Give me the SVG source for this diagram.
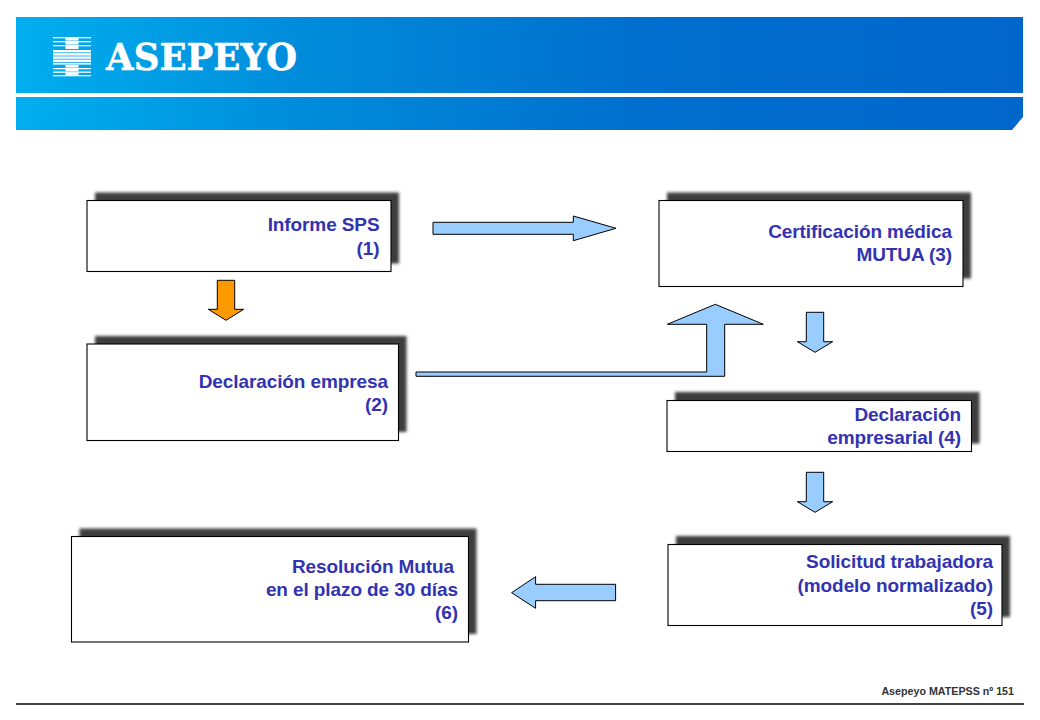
<svg xmlns="http://www.w3.org/2000/svg" width="1040" height="720" viewBox="0 0 1040 720">
<style>
.box{fill:#fff;stroke:#000;stroke-width:1.1}
.shadow{fill:#3c3c3c;filter:url(#blur)}
.label{font-family:"Liberation Sans",Arial,sans-serif;font-weight:700;font-size:19px;fill:#3333b2;text-anchor:end;letter-spacing:-.1px}
.arrow{fill:#99ccff;stroke:#000;stroke-width:1;stroke-linejoin:miter}
.orange{fill:#ff9900}
</style>
<defs>
<linearGradient id="hdr" gradientUnits="userSpaceOnUse" x1="16" y1="0" x2="1023" y2="0">
<stop offset="0" stop-color="#00aeef"/><stop offset=".3" stop-color="#008ada"/><stop offset=".62" stop-color="#006fce"/><stop offset="1" stop-color="#0066cc"/>
</linearGradient>
<filter id="blur" x="-5%" y="-15%" width="110%" height="130%"><feGaussianBlur stdDeviation="1.6"/></filter>
</defs>
<g id="header">
<rect x="16" y="17" width="1007" height="76" fill="url(#hdr)"/>
<polygon points="16,97 1023,97 1023,117 1012,130 16,130" fill="url(#hdr)"/>
<g id="logo" fill="#fff">
<rect x="53" y="37" width="38" height="1.300"/><rect x="53" y="41" width="38" height="1.300"/><rect x="53" y="45" width="38" height="1.300"/>
<rect x="53" y="68" width="38" height="1.300"/><rect x="53" y="71.500" width="38" height="1.300"/><rect x="53" y="75" width="38" height="1.300"/>
<rect x="65.500" y="38" width="13" height="2.600"/><rect x="65.500" y="42" width="13" height="2.600"/><rect x="65.500" y="46" width="13" height="3"/>
<rect x="53" y="50" width="38" height="2.400"/><rect x="53" y="53.200" width="38" height="2.400"/><rect x="53" y="56.400" width="38" height="2.400"/><rect x="53" y="59.600" width="38" height="2.400"/><rect x="53" y="62.800" width="38" height="1.800"/>
<rect x="65.500" y="65" width="13" height="2.600"/><rect x="65.500" y="69" width="13" height="2.300"/><rect x="65.500" y="72.600" width="13" height="2.300"/>
</g>
<text x="106" y="69.500" font-family="'DejaVu Serif',serif" font-weight="700" font-size="38" fill="#fff" stroke="#fff" stroke-width=".5" textLength="191" lengthAdjust="spacingAndGlyphs">ASEPEYO</text>
</g>
<g id="connectors">
<polygon class="arrow" points="433,222.300 573.300,222.300 573.300,216 616,228.300 573.300,240.700 573.300,234.300 433,234.300"/>
<polygon class="arrow orange" points="217.300,280.300 234.700,280.300 234.700,309.300 243.700,309.300 226,320.300 208.300,309.300 217.300,309.300"/>
<polygon class="arrow" points="416,372 706.700,372 706.700,324.300 667.300,324.300 715.300,304.300 763.300,324.300 724.700,324.300 724.700,376.300 416,376.300"/>
<polygon class="arrow" points="806.300,312.300 823.700,312.300 823.700,341.700 832.700,341.700 815,352.300 797.300,341.700 806.300,341.700"/>
<polygon class="arrow" points="806.300,472.300 823.700,472.300 823.700,501.700 832.700,501.700 815,512.300 797.300,501.700 806.300,501.700"/>
<polygon class="arrow" points="615.600,584.300 535.600,584.300 535.600,576.700 511.600,592.700 535.600,608.300 535.600,600.700 615.600,600.700"/>
</g>
<g id="node1">
<rect class="shadow" x="95" y="192.500" width="304" height="71"/>
<rect class="box" x="87" y="200.500" width="304" height="71"/>
<text class="label" x="379.500" y="231">Informe SPS</text>
<text class="label" x="379.500" y="255">(1)</text>
</g>
<g id="node2">
<rect class="shadow" x="95" y="336" width="311.500" height="96"/>
<rect class="box" x="87" y="344" width="311.500" height="96.500"/>
<text class="label" x="388" y="388">Declaración empresa</text>
<text class="label" x="388" y="411">(2)</text>
</g>
<g id="node3">
<rect class="shadow" x="667" y="192.500" width="304" height="86"/>
<rect class="box" x="659" y="200.500" width="304" height="86"/>
<text class="label" x="952" y="238">Certificación médica</text>
<text class="label" x="952" y="261">MUTUA (3)</text>
</g>
<g id="node4">
<rect class="shadow" x="675" y="392" width="304.500" height="51.500"/>
<rect class="box" x="667" y="400.500" width="304.500" height="51"/>
<text class="label" x="961" y="421">Declaración</text>
<text class="label" x="961" y="444">empresarial (4)</text>
</g>
<g id="node5">
<rect class="shadow" x="676" y="536" width="334" height="81"/>
<rect class="box" x="668" y="544.500" width="334" height="81"/>
<text class="label" x="993" y="568">Solicitud trabajadora</text>
<text class="label" x="993" y="592">(modelo normalizado)</text>
<text class="label" x="993" y="615">(5)</text>
</g>
<g id="node6">
<rect class="shadow" x="79.500" y="528.500" width="397" height="105.500"/>
<rect class="box" x="71.500" y="536.500" width="397" height="105.500"/>
<text class="label" x="454" y="573">Resolución Mutua</text>
<text class="label" x="458" y="596">en el plazo de 30 días</text>
<text class="label" x="458" y="619">(6)</text>
</g>
<g id="footer">
<text x="1014" y="695" font-family="'Liberation Sans',Arial,sans-serif" font-weight="700" font-size="10.700" fill="#333" text-anchor="end">Asepeyo MATEPSS nº 151</text>
<rect x="16" y="703" width="1008" height="2" fill="#444"/>
</g>
</svg>
